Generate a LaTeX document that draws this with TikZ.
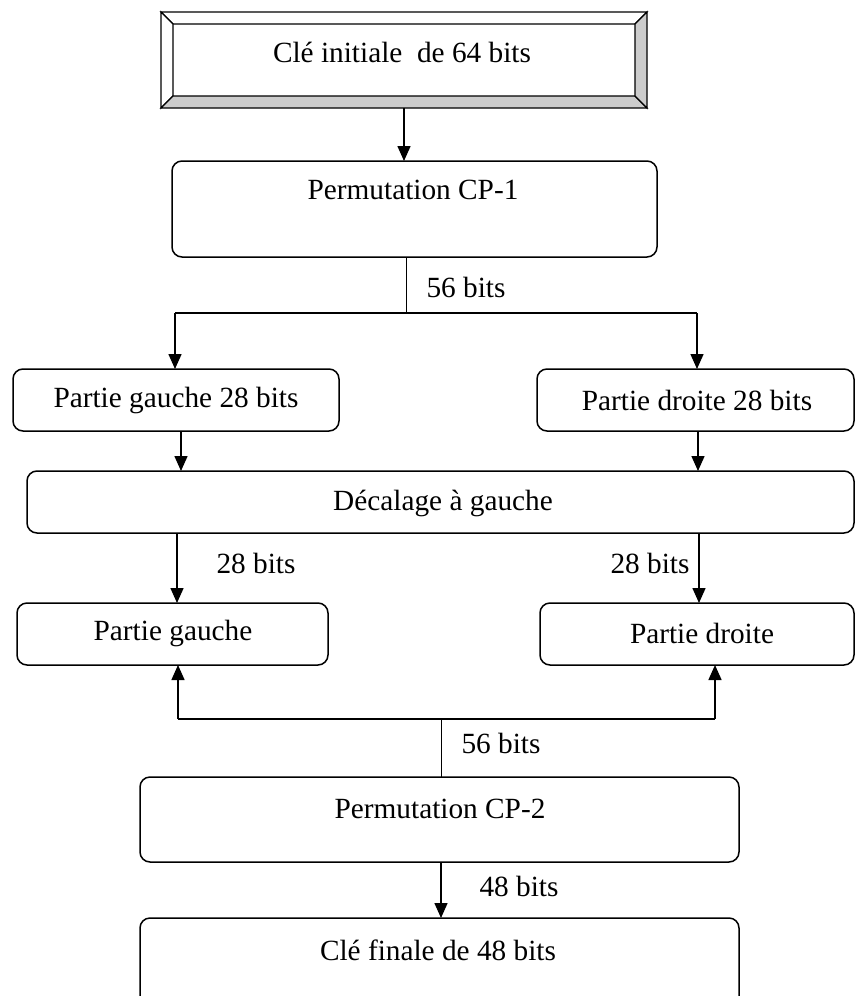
\documentclass[tikz,border=0pt]{standalone}
\usepackage{fontspec}
\setmainfont{Liberation Serif}
\usetikzlibrary{arrows.meta}
\begin{document}
\begin{tikzpicture}[x=1pt,y=-1pt,
  box/.style={draw, line width=1.5pt, rounded corners=10pt, inner sep=0pt, outer sep=0pt},
  txt/.style={inner sep=0pt, font=\fontsize{29.3}{35}\selectfont},
  arr/.style={line width=1.5pt, -{Triangle[length=15pt,width=13pt]}},
  ln/.style={line width=1.5pt},
  thin/.style={line width=1pt},
  bevlight/.style={fill=white, draw=black, line width=1.2pt, line join=miter},
  bevdark/.style={fill=black!20, draw=black, line width=1.2pt, line join=miter}]
\useasboundingbox (0,0) rectangle (855,996);
\clip (0,0) rectangle (855,996);

% top bevelled box
\node[inner sep=0pt, outer sep=0pt, minimum width=486pt, minimum height=96pt] (init) at (404,60) {};
\fill[white] (173,24) rectangle (635,96);
\draw[bevlight] (161,12) -- (647,12) -- (635,24) -- (173,24) -- cycle;
\draw[bevlight] (161,12) -- (173,24) -- (173,96) -- (161,108) -- cycle;
\draw[bevdark] (161,108) -- (173,96) -- (635,96) -- (647,108) -- cycle;
\draw[bevdark] (647,12) -- (647,108) -- (635,96) -- (635,24) -- cycle;
\node[txt] (tinit) at (402,52) {Clé initiale\ \ de 64 bits};

% boxes
\node[box, minimum width=485pt, minimum height=96pt] (cp1) at (414.5,209) {};
\node[box, minimum width=326pt, minimum height=62pt] (g28) at (176,400) {};
\node[box, minimum width=317pt, minimum height=62pt] (d28) at (695.5,400) {};
\node[box, minimum width=827pt, minimum height=62pt] (dec) at (440.5,502) {};
\node[box, minimum width=311pt, minimum height=62pt] (pg) at (172.5,634) {};
\node[box, minimum width=314pt, minimum height=62pt] (pd) at (697,634) {};
\node[box, minimum width=599pt, minimum height=85pt] (cp2) at (439.5,819.5) {};
\node[box, minimum width=599pt, minimum height=92pt] (fin) at (439.5,964) {};

% texts
\node[txt] (tcp1) at (413,190) {Permutation CP-1};
\node[txt] (tg28) at (176,400) {Partie gauche 28 bits};
\node[txt] (td28) at (697,400) {Partie droite 28 bits};
\node[txt] (tdec) at (443,503) {Décalage à gauche};
\node[txt] (tpg) at (173,633) {Partie gauche};
\node[txt] (tpd) at (702,633) {Partie droite};
\node[txt] (tcp2) at (440,809) {Permutation CP-2};
\node[txt] (tfin) at (438,950) {Clé finale de 48 bits};

% labels
\node[txt] (l56a) at (466,287) {56 bits};
\node[txt] (l28a) at (256,563) {28 bits};
\node[txt] (l28b) at (650,563) {28 bits};
\node[txt] (l56b) at (501,743) {56 bits};
\node[txt] (l48) at (519,886) {48 bits};

% column coordinates
\coordinate (c1) at (406,313);
\coordinate (jL) at (175,313);
\coordinate (jR) at (697,313);
\coordinate (xa) at (181,0);
\coordinate (xb) at (698,0);
\coordinate (xc) at (177,0);
\coordinate (xd) at (699,0);
\coordinate (c2) at (441,719);
\coordinate (kL) at (178,719);
\coordinate (kR) at (715,719);
\coordinate (xe) at (441,0);

% connectors
\draw[arr] (init.south) -- (init.south |- cp1.north);
\draw[thin] (cp1.south -| c1) -- (c1);
\draw[ln] (jL) -- (jR);
\draw[arr] (jL) -- (jL |- g28.north);
\draw[arr] (jR) -- (jR |- d28.north);
\draw[arr] (g28.south -| xa) -- (dec.north -| xa);
\draw[arr] (d28.south -| xb) -- (dec.north -| xb);
\draw[arr] (dec.south -| xc) -- (pg.north -| xc);
\draw[arr] (dec.south -| xd) -- (pd.north -| xd);
\draw[thin] (cp2.north -| c2) -- (c2);
\draw[ln] (kL) -- (kR);
\draw[arr] (kL) -- (kL |- pg.south);
\draw[arr] (kR) -- (kR |- pd.south);
\draw[arr] (cp2.south -| xe) -- (fin.north -| xe);
\end{tikzpicture}
\end{document}
